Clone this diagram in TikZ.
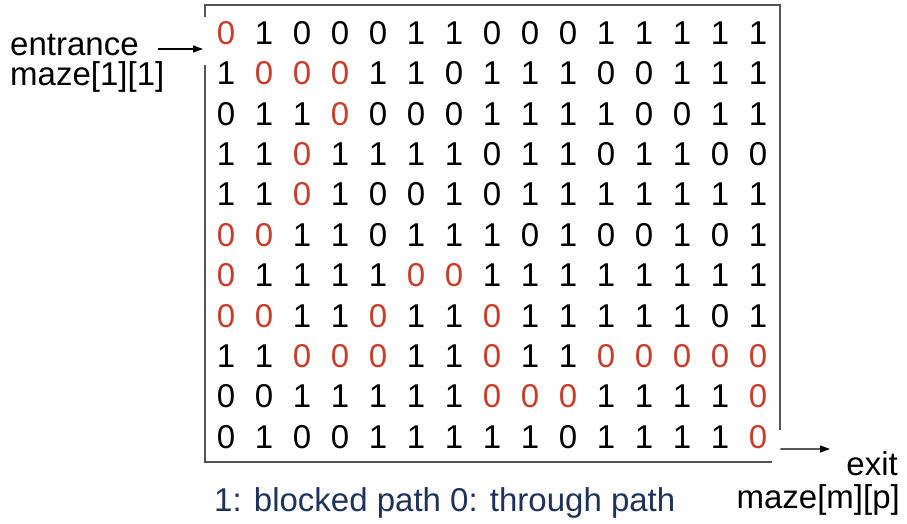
\documentclass[tikz,border=0pt]{standalone}
\usepackage{fontspec}
\setmainfont{Liberation Sans}
\usetikzlibrary{arrows.meta}
\definecolor{pathred}{RGB}{200,62,42}
\definecolor{legendblue}{RGB}{30,50,90}
\definecolor{framegray}{RGB}{85,85,85}
\begin{document}
\begin{tikzpicture}[x=1pt,y=-1pt,
  every node/.style={font=\fontsize{33}{40}\selectfont, inner sep=0pt},
  cell/.style={anchor=center},
  label/.style={anchor=base west},
  frame/.style={draw=framegray, line width=1.8pt},
  arr/.style={-{Triangle[length=10pt,width=7pt]}, line width=1.4pt}]
\useasboundingbox (0,0) rectangle (907,524);

% maze matrix: 0 = open, 1 = blocked, 2 = open cell on the solution path
\foreach \rowlist [count=\r] in {
  {2,1,0,0,0,1,1,0,0,0,1,1,1,1,1},
  {1,2,2,2,1,1,0,1,1,1,0,0,1,1,1},
  {0,1,1,2,0,0,0,1,1,1,1,0,0,1,1},
  {1,1,2,1,1,1,1,0,1,1,0,1,1,0,0},
  {1,1,2,1,0,0,1,0,1,1,1,1,1,1,1},
  {2,2,1,1,0,1,1,1,0,1,0,0,1,0,1},
  {2,1,1,1,1,2,2,1,1,1,1,1,1,1,1},
  {2,2,1,1,2,1,1,2,1,1,1,1,1,0,1},
  {1,1,2,2,2,1,1,2,1,1,2,2,2,2,2},
  {0,0,1,1,1,1,1,2,2,2,1,1,1,1,2},
  {0,1,0,0,1,1,1,1,1,0,1,1,1,1,2}}
{
  \foreach \v [count=\c] in \rowlist {
    \ifnum\v=2 \def\dcol{pathred}\def\dval{0}\else\def\dcol{black}\edef\dval{\v}\fi
    \node[cell, text=\dcol] (d-\r-\c) at ({226+(\c-1)*38}, {33+(\r-1)*40.4}) {\dval};
  }
}

% frame, left open at the entrance and open at the exit corner
\draw[frame] (205,17) |- (780,5) -- (780,430);
\draw[frame] (205,65) |- (772,462);

% entrance
\node[label] (ent) at (10,56) {entrance};
\node[label] (entpos) at (10,86) {maze[1][1]};
\coordinate (entTip) at (203,49);
\draw[arr] ([xshift=19pt,yshift=7pt]ent.base east) -- (entTip);

% exit
\coordinate (exitTip) at (830,449);
\draw[arr] ([xshift=13pt,yshift=-12pt]d-11-15.east) -- (exitTip);
\node[anchor=base east] (exitlbl) at (898,475) {exit};
\node[anchor=base east] (exitpos) at (900,508) {maze[m][p]};

% legend
\node[label, text=legendblue] (legend) at (214,511) {1: blocked path 0: through path};
\end{tikzpicture}
\end{document}
